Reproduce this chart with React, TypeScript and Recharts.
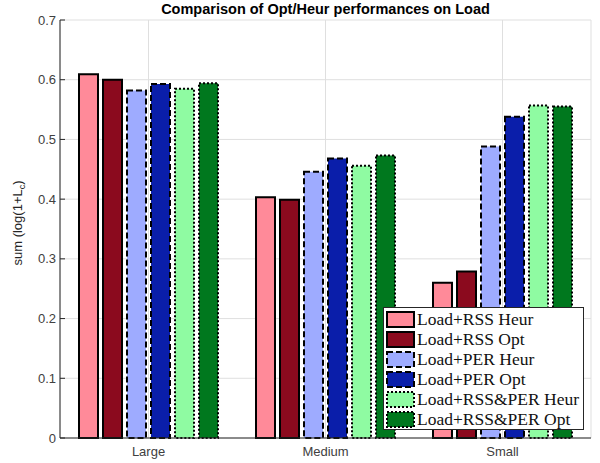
import {
  Bar,
  BarChart,
  CartesianGrid,
  Legend,
  XAxis,
  YAxis,
} from 'recharts'

const categories = ['Large', 'Medium', 'Small']
const rssHeur = [0.609, 0.403, 0.26]
const rssOpt = [0.6, 0.399, 0.279]
const perHeur = [0.582, 0.446, 0.488]
const perOpt = [0.593, 0.468, 0.538]
const bothHeur = [0.585, 0.456, 0.557]
const bothOpt = [0.594, 0.473, 0.555]
const yTicks = [0, 0.1, 0.2, 0.3, 0.4, 0.5, 0.6, 0.7]

const SANS = '"Liberation Sans", Arial, sans-serif'
const SERIF = '"Liberation Serif", "Times New Roman", serif'
const AXIS_COLOR = '#262626'
const GRID_COLOR = '#dfdfdf'

type Series = { key: string; name: string; fill: string; dash?: string }

const series: Series[] = [
  { key: 'rssHeur', name: 'Load+RSS Heur', fill: '#ff8a99' },
  { key: 'rssOpt', name: 'Load+RSS Opt', fill: '#8b0a1e' },
  { key: 'perHeur', name: 'Load+PER Heur', fill: '#9eabff', dash: '6 3' },
  { key: 'perOpt', name: 'Load+PER Opt', fill: '#0a1eaa', dash: '6 3' },
  { key: 'bothHeur', name: 'Load+RSS&PER Heur', fill: '#8ffba2', dash: '2 2' },
  { key: 'bothOpt', name: 'Load+RSS&PER Opt', fill: '#00781e', dash: '2 2' },
]

const data = categories.map((name, i) => ({
  name,
  rssHeur: rssHeur[i],
  rssOpt: rssOpt[i],
  perHeur: perHeur[i],
  perOpt: perOpt[i],
  bothHeur: bothHeur[i],
  bothOpt: bothOpt[i],
}))

function LegendBox() {
  return (
    <div
      style={{
        background: '#fff',
        border: `1px solid ${AXIS_COLOR}`,
        padding: '1px 4px 0 2px',
        fontFamily: SERIF,
        fontSize: 17.5,
        color: '#111',
      }}
    >
      {series.map((s) => (
        <div key={s.key} style={{ display: 'flex', alignItems: 'center', height: 20 }}>
          <svg width={30} height={17} style={{ marginRight: 1 }}>
            <rect
              x={1}
              y={1}
              width={27}
              height={15}
              fill={s.fill}
              stroke="#000"
              strokeWidth={2}
              strokeDasharray={s.dash}
            />
          </svg>
          <span style={{ whiteSpace: 'nowrap', lineHeight: '20px' }}>{s.name}</span>
        </div>
      ))}
    </div>
  )
}

function YLabel() {
  return (
    <text
      x={22}
      y={223}
      transform="rotate(-90 22 223)"
      textAnchor="middle"
      fontFamily={SANS}
      fontSize={13}
      fill={AXIS_COLOR}
    >
      sum (log(1+L<tspan fontSize={9} dy={3}>c</tspan>
      <tspan dy={-3}>)</tspan>
    </text>
  )
}

export default function App() {
  const tickStyle = { fontSize: 13, fill: '#404040', fontFamily: SANS }
  return (
    <div style={{ position: 'absolute', left: 0, top: 0, width: 600, height: 463, background: '#fff' }}>
      <div
        style={{
          position: 'absolute',
          left: 60,
          width: 531,
          top: 1,
          textAlign: 'center',
          fontFamily: SANS,
          fontWeight: 'bold',
          fontSize: 14.5,
          color: '#000',
          zIndex: 2,
        }}
      >
        Comparison of Opt/Heur performances on Load
      </div>
      <BarChart
        width={600}
        height={463}
        data={data}
        margin={{ top: 20, right: 9, bottom: 0, left: 0 }}
        barCategoryGap={19}
        barGap={5}
      >
        <CartesianGrid stroke={GRID_COLOR} vertical horizontal />
        <XAxis
          dataKey="name"
          height={25}
          tick={tickStyle}
          tickLine={false}
          tickMargin={3}
          axisLine={{ stroke: AXIS_COLOR }}
        />
        <XAxis
          xAxisId="top"
          dataKey="name"
          orientation="top"
          height={0}
          mirror
          tickSize={5}
          tickFormatter={() => ''}
          tickLine={{ stroke: AXIS_COLOR }}
          axisLine={{ stroke: AXIS_COLOR }}
        />
        <YAxis
          width={60}
          domain={[0, 0.7]}
          ticks={yTicks}
          tick={tickStyle}
          tickFormatter={(v: number) => (v === 0 ? '0' : v.toFixed(1))}
          tickSize={-5}
          tickMargin={9}
          tickLine={{ stroke: AXIS_COLOR }}
          axisLine={{ stroke: AXIS_COLOR }}
          label={<YLabel />}
        />
        <YAxis
          yAxisId="right"
          orientation="right"
          width={0}
          mirror
          domain={[0, 0.7]}
          ticks={yTicks}
          tickSize={5}
          tickFormatter={() => ''}
          tickLine={{ stroke: AXIS_COLOR }}
          axisLine={{ stroke: AXIS_COLOR }}
        />
        {series.map((s) => (
          <Bar
            key={s.key}
            dataKey={s.key}
            name={s.name}
            fill={s.fill}
            stroke="#000"
            strokeWidth={2}
            strokeDasharray={s.dash}
            isAnimationActive={false}
          />
        ))}
        <Legend
          layout="horizontal"
          verticalAlign="middle"
          align="center"
          content={() => <LegendBox />}
          wrapperStyle={{ position: 'absolute', left: 383, top: 307, width: 'auto', height: 'auto' }}
        />
      </BarChart>
    </div>
  )
}
